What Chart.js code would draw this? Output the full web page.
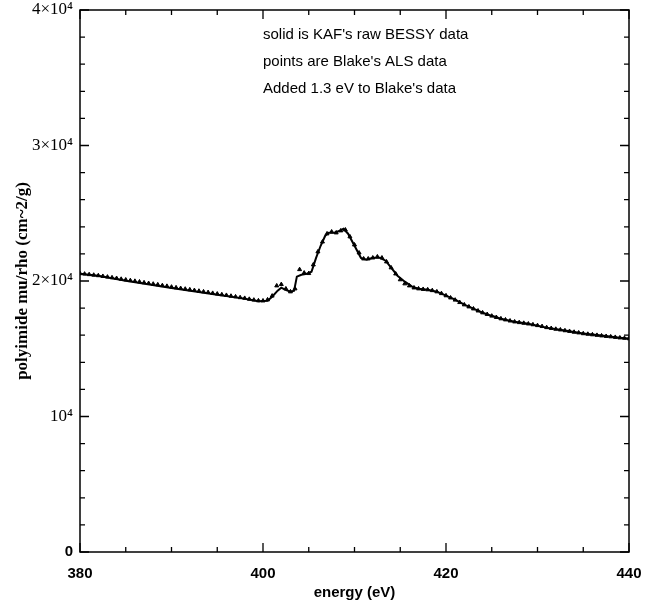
<!DOCTYPE html>
<html>
<head>
<meta charset="utf-8">
<script src="https://cdn.jsdelivr.net/npm/chart.js@4"></script>
<style>
  body { margin: 0; background: #fff; }
  canvas { display: block; }
</style>
</head>
<body>
<canvas id="chart" width="652" height="605"></canvas>
<script>
// KAF's raw BESSY data (solid line)
const solidEnergy = [380, 382, 385, 390, 395, 398, 399.5, 400.5, 401, 401.6, 402, 402.4, 403, 403.4,
  403.7, 404.2, 404.8, 405.3, 405.8, 406.3, 406.8, 407.2, 407.8, 408.4, 408.8, 409.3, 410, 410.7,
  411.3, 412, 412.8, 413.4, 414, 414.7, 415.5, 416.3, 417, 418, 419, 420, 421, 422, 423, 424, 425,
  426, 427.5, 429, 431, 433, 435, 437, 439, 440];
const solidMu = [20530, 20390, 20020, 19480, 18990, 18700, 18510, 18550, 18840, 19285, 19505, 19360, 19210, 19285,
  20320, 20460, 20530, 20680, 21710, 22600, 23340, 23560, 23560, 23710, 23850, 23490, 22600, 21710,
  21570, 21710, 21710, 21500, 20980, 20390, 19950, 19580, 19430, 19360, 19210, 18920, 18620, 18250, 17960, 17660, 17430,
  17220, 17000, 16850, 16560, 16340, 16120, 15970, 15820, 15750];

// Blake's ALS data, shifted by 1.3 eV (points)
const pointEnergy = [380, 380.5, 381, 381.5, 382, 382.5, 383, 383.5, 384, 384.5, 385, 385.5, 386, 386.5,
  387, 387.5, 388, 388.5, 389, 389.5, 390, 390.5, 391, 391.5, 392, 392.5, 393, 393.5, 394, 394.5,
  395, 395.5, 396, 396.5, 397, 397.5, 398, 398.5, 399, 399.5, 400, 400.5, 401, 401.5, 402, 402.5,
  403, 403.5, 404, 404.5, 405, 405.5, 406, 406.5, 407, 407.5, 408, 408.5, 409, 409.5, 410, 410.5,
  411, 411.5, 412, 412.5, 413, 413.5, 414, 414.5, 415, 415.5, 416, 416.5, 417, 417.5, 418, 418.5,
  419, 419.5, 420, 420.5, 421, 421.5, 422, 422.5, 423, 423.5, 424, 424.5, 425, 425.5, 426, 426.5,
  427, 427.5, 428, 428.5, 429, 429.5, 430, 430.5, 431, 431.5, 432, 432.5, 433, 433.5, 434, 434.5,
  435, 435.5, 436, 436.5, 437, 437.5, 438, 438.5, 439, 439.5, 440];
const pointMu = [20550, 20520, 20480, 20440, 20400, 20350, 20300, 20250, 20200, 20140, 20090, 20040, 19990, 19940,
  19880, 19830, 19780, 19730, 19670, 19620, 19560, 19510, 19460, 19410, 19360, 19310, 19260, 19210, 19160, 19100,
  19050, 19000, 18950, 18890, 18840, 18780, 18730, 18660, 18600, 18550, 18540, 18620, 18900, 19650, 19750, 19430,
  19210, 19430, 20850, 20600, 20560, 21200, 22160, 22890, 23490, 23630, 23560, 23710, 23780, 23270, 22670, 22080,
  21640, 21640, 21710, 21790, 21710, 21420, 20980, 20530, 20100, 19800, 19650, 19500, 19430, 19390, 19360, 19300,
  19210, 19080, 18920, 18760, 18600, 18420, 18250, 18100, 17950, 17800, 17660, 17540, 17420, 17320, 17220, 17140,
  17060, 16990, 16940, 16890, 16840, 16780, 16720, 16650, 16570, 16510, 16450, 16400, 16340, 16290, 16230, 16180,
  16120, 16080, 16040, 16000, 15960, 15920, 15890, 15850, 15810, 15780, 15750];

const yTickLabels = ['0', '10\u2074', '2\u00d710\u2074', '3\u00d710\u2074', '4\u00d710\u2074'];
const notes = ["solid is KAF's raw BESSY data", "points are Blake's ALS data", "Added 1.3 eV to Blake's data"];

const SANS = "'Liberation Sans', Arial, sans-serif";
const SERIF = "'Liberation Serif', 'Times New Roman', serif";

// box + inward ticks on all four sides, plus the notes
const framePlugin = {
  id: 'frame',
  afterDraw(chart) {
    const { ctx, chartArea: a, scales: { x, y } } = chart;
    ctx.save();
    ctx.strokeStyle = '#000';
    ctx.lineWidth = 1.5;
    ctx.strokeRect(a.left, a.top, a.right - a.left, a.bottom - a.top);
    ctx.lineWidth = 1.3;
    ctx.beginPath();
    for (let e = 380; e <= 440; e += 5) {
      const px = x.getPixelForValue(e);
      const len = (e - 380) % 20 === 0 ? 9 : 5;
      ctx.moveTo(px, a.bottom); ctx.lineTo(px, a.bottom - len);
      ctx.moveTo(px, a.top); ctx.lineTo(px, a.top + len);
    }
    for (let v = 0; v <= 40000; v += 2000) {
      const py = y.getPixelForValue(v);
      const len = v % 10000 === 0 ? 9 : 5;
      ctx.moveTo(a.left, py); ctx.lineTo(a.left + len, py);
      ctx.moveTo(a.right, py); ctx.lineTo(a.right - len, py);
    }
    ctx.stroke();

    ctx.fillStyle = '#000';
    ctx.font = '15px ' + SANS;
    ctx.textBaseline = 'middle';
    ctx.textAlign = 'left';
    const nx = x.getPixelForValue(400);
    notes.forEach((t, i) => ctx.fillText(t, nx, a.top + 25 + i * 27));
    ctx.restore();
  }
};

new Chart(document.getElementById('chart'), {
  type: 'scatter',
  data: {
    datasets: [
      {
        label: 'KAF BESSY',
        data: solidEnergy.map((e, i) => ({ x: e, y: solidMu[i] })),
        showLine: true,
        borderColor: '#000',
        borderWidth: 2,
        pointRadius: 0,
        tension: 0
      },
      {
        label: 'Blake ALS',
        data: pointEnergy.map((e, i) => ({ x: e, y: pointMu[i] })),
        showLine: false,
        pointStyle: 'triangle',
        pointRadius: 2.3,
        borderColor: '#000',
        borderWidth: 1,
        backgroundColor: '#000'
      }
    ]
  },
  options: {
    responsive: false,
    animation: false,
    layout: { padding: { top: 10, right: 23, left: 0, bottom: 0 } },
    plugins: { legend: { display: false }, tooltip: { enabled: false } },
    scales: {
      x: {
        type: 'linear',
        min: 380,
        max: 440,
        grid: { display: false, drawTicks: false },
        border: { display: false },
        ticks: {
          stepSize: 20,
          maxRotation: 0,
          color: '#000',
          padding: 13,
          font: { family: SANS, size: 15, weight: 'bold' }
        },
        title: {
          display: true,
          text: 'energy (eV)',
          color: '#000',
          font: { family: SANS, size: 15, weight: 'bold' },
          padding: { top: 0, bottom: 3 }
        },
        afterFit(scale) {
          scale.height = 53;
          scale.paddingLeft = 0;
          scale.paddingRight = 0;
        }
      },
      y: {
        min: 0,
        max: 40000,
        grid: { display: false, drawTicks: false },
        border: { display: false },
        ticks: {
          stepSize: 10000,
          color: '#000',
          padding: 7,
          callback: (v, i) => yTickLabels[i],
          font: ctx => ctx.tick && ctx.tick.value === 0
            ? { family: SANS, size: 15, weight: 'bold' }
            : { family: SERIF, size: 17 }
        },
        title: {
          display: true,
          text: 'polyimide mu/rho (cm~2/g)',
          color: '#000',
          font: { family: SERIF, size: 17, weight: 'bold' },
          padding: { top: 12, bottom: 0 }
        },
        afterFit(scale) {
          scale.width = 80;
          scale.paddingTop = 0;
          scale.paddingBottom = 0;
        }
      }
    }
  },
  plugins: [framePlugin]
});
</script>
</body>
</html>
